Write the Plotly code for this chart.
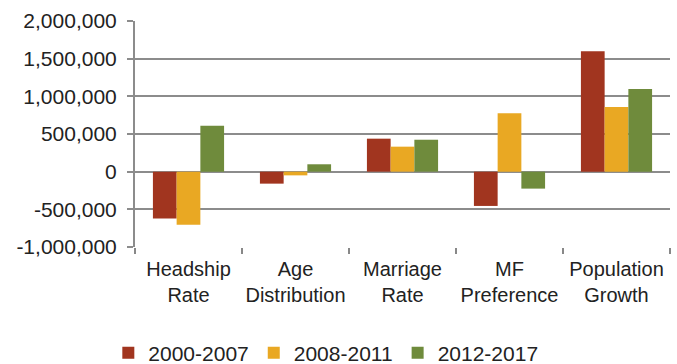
import plotly.graph_objects as go

categories = ["Headship<br>Rate", "Age<br>Distribution", "Marriage<br>Rate", "MF<br>Preference", "Population<br>Growth"]
series_names = ["2000-2007", "2008-2011", "2012-2017"]
v_2000_2007 = [-623000, -159000, 438000, -455000, 1597000]
v_2008_2011 = [-703000, -49000, 332000, 775000, 858000]
v_2012_2017 = [610000, 98000, 424000, -225000, 1097000]
colors = ["#A1351F", "#E9A823", "#6F8B3C"]
tick_vals = [-1000000, -500000, 0, 500000, 1000000, 1500000, 2000000]
tick_text = ["-1,000,000", "-500,000", "0", "500,000", "1,000,000", "1,500,000", "2,000,000"]

fig = go.Figure()
for name, vals, c in zip(series_names, [v_2000_2007, v_2008_2011, v_2012_2017], colors):
    fig.add_trace(go.Bar(x=categories, y=vals, name=name, marker_color=c,
                         marker_line_width=0))

font = "Liberation Sans, Arial, sans-serif"
fig.update_layout(
    width=677, height=364,
    margin=dict(l=135, r=7, t=21, b=117),
    paper_bgcolor="white", plot_bgcolor="white",
    barmode="group", bargap=0.335, bargroupgap=0,
    font=dict(family=font, size=20, color="#222222"),
    showlegend=True,
    legend=dict(orientation="h", xref="container", x=0.16, xanchor="left",
                yref="container", y=0.03, yanchor="middle",
                font=dict(size=21, color="#222222"), itemwidth=30,
                traceorder="normal"),
    xaxis=dict(showgrid=False, showline=False, ticks="outside", ticklen=6,
               tickcolor="#888888", tickwidth=2, tickson="boundaries",
               tickangle=0, automargin=False, ticklabelstandoff=8,
               tickfont=dict(size=20, color="#222222")),
    yaxis=dict(range=[-1000000, 2000000], tickvals=tick_vals, ticktext=tick_text,
               showgrid=True, gridcolor="#8C8C8C", gridwidth=2,
               showline=True, linecolor="#8C8C8C", linewidth=2,
               ticks="outside", ticklen=6, tickcolor="#8C8C8C", tickwidth=2,
               zeroline=True, zerolinecolor="#8C8C8C", zerolinewidth=2,
               automargin=False, ticklabelstandoff=6,
               tickfont=dict(size=21, color="#222222")),
)
fig.write_html("out.html")
